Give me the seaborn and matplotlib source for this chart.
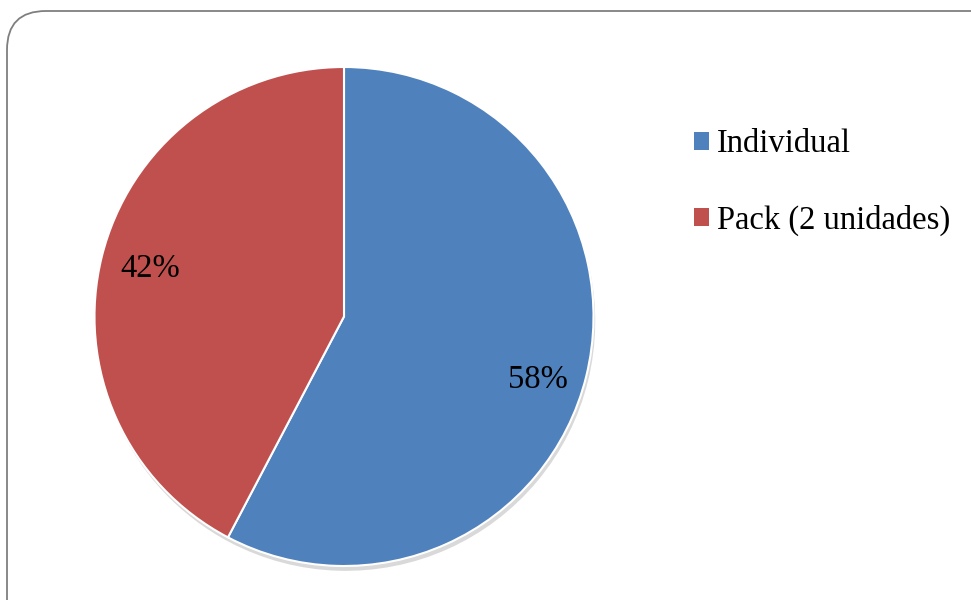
import matplotlib
matplotlib.use("Agg")
import matplotlib.pyplot as plt
import matplotlib.transforms as mtransforms
import seaborn as sns
from matplotlib.patches import FancyBboxPatch, Patch

categories = ["Individual", "Pack (2 unidades)"]
values = [57.7, 42.3]
colors = ["#4F81BD", "#C0504D"]

sns.set_theme(style="white")
plt.rcParams['font.family'] = ['Liberation Serif', 'DejaVu Serif']

fig = plt.figure(figsize=(9.71, 6.0), dpi=100)
fig.patch.set_facecolor("white")

# rounded frame
frame = FancyBboxPatch((7/971, -0.2), 1.2, (600-11)/600 + 0.2,
                       boxstyle="round,pad=0,rounding_size=0.04",
                       transform=fig.transFigure, facecolor="none",
                       edgecolor="#7f7f7f", linewidth=1.3, zorder=0,
                       mutation_aspect=971/600)
fig.patches.append(frame)

ax = fig.add_axes([94.5/971, (600-566)/600, 499/971, 499/600])
ax.set_facecolor("none")
wedges, texts, autotexts = ax.pie(
    values, colors=colors, startangle=90, counterclock=False,
    autopct=lambda p: f"{p:.0f}%", pctdistance=0.8,
    wedgeprops=dict(edgecolor="white", linewidth=1.5),
    textprops=dict(fontsize=23.5, color="black"),
    shadow=dict(ox=0.005, oy=-0.014, facecolor="#a0a0a0", edgecolor="none", alpha=0.4),
)
ax.set_xlim(-1, 1)
ax.set_ylim(-1, 1)
ax.set_aspect("equal")
ax.axis("off")

# Excel-style "best fit" nudge for the larger slice label
autotexts[0].set_transform(mtransforms.offset_copy(ax.transData, fig=fig, x=0, y=-15, units="dots"))

handles = [Patch(facecolor=c, edgecolor="none") for c in colors]
fig.legend(handles, categories, loc="upper left",
           bbox_to_anchor=(694/971, 1 - 129/600), frameon=False,
           fontsize=23.5, labelcolor="black", labelspacing=1.39,
           handlelength=0.45, handleheight=0.45, handletextpad=0.25,
           borderpad=0, borderaxespad=0)

fig.savefig("out.png", dpi=100, facecolor="white")
